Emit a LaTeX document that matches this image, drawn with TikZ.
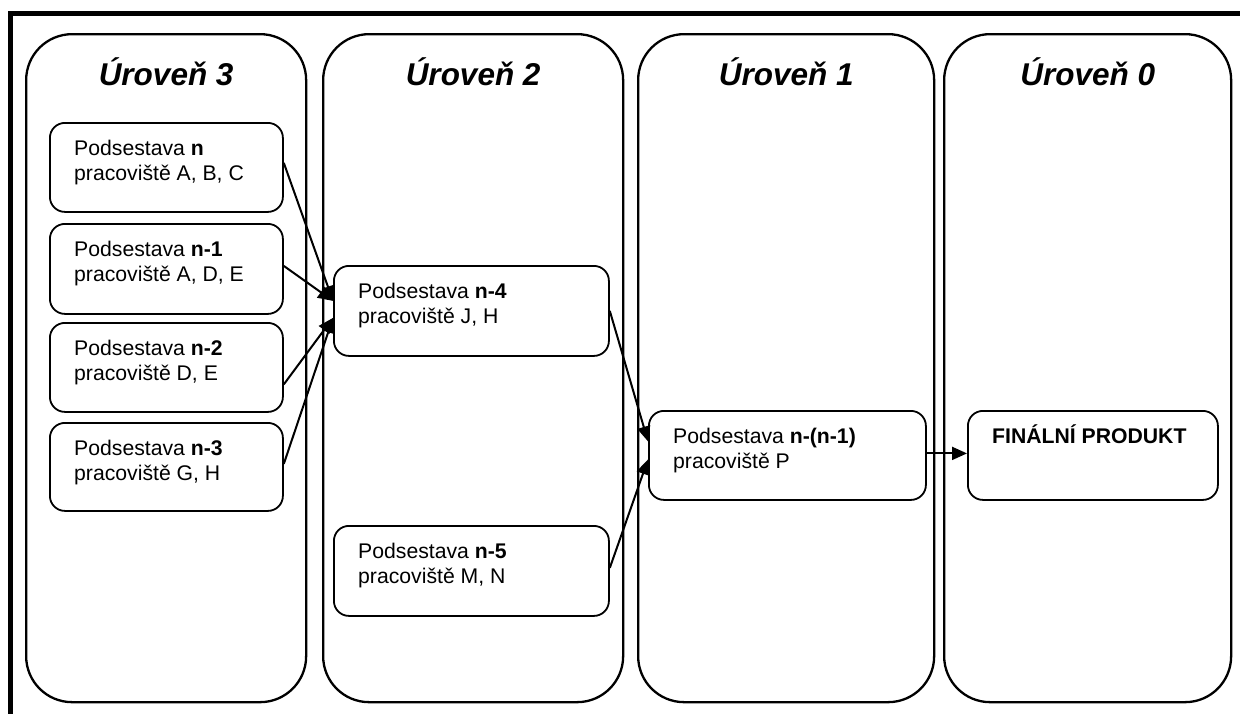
\documentclass[tikz,border=0pt]{standalone}
\usepackage{fontspec}
\setmainfont{Liberation Sans}
\usetikzlibrary{arrows.meta}
\begin{document}
\begin{tikzpicture}[x=1pt,y=-1pt,
  level/.style={draw, line width=2.3pt, rounded corners=46pt, inner sep=0pt,
    anchor=north west, minimum height=668pt},
  leveltitle/.style={anchor=base, inner sep=0pt,
    font=\fontsize{31.5}{37}\selectfont\bfseries\itshape},
  part/.style={draw, line width=1.8pt, rounded corners=15pt, inner sep=0pt,
    anchor=north west},
  parttext/.style={anchor=north west, inner sep=0pt, align=left,
    font=\fontsize{21.2}{25}\selectfont},
  flow/.style={line width=2pt, -{Triangle[length=15pt,width=13pt]}}]
\useasboundingbox (0,0) rectangle (1240,713);

% outer frame (open on the right and at the bottom)
\draw[line width=5pt] (10,720) -- (10,13.5) -- (1250,13.5);

% level columns
\node[level, minimum width=280pt] (c3) at (25,33) {};
\node[level, minimum width=300pt] (c2) at (322,33) {};
\node[level, minimum width=296pt] (c1) at (637,33) {};
\node[level, minimum width=287pt] (c0) at (943,33) {};
\node[leveltitle] (t3) at ([yshift=-52pt]c3.north) {Úroveň 3};
\node[leveltitle] (t2) at ([yshift=-52pt]c2.north) {Úroveň 2};
\node[leveltitle] (t1) at ([yshift=-52pt]c1.north) {Úroveň 1};
\node[leveltitle] (t0) at ([yshift=-52pt]c0.north) {Úroveň 0};

% sub-assemblies
\node[part, minimum width=233pt, minimum height=89pt] (n)  at (49,122) {};
\node[part, minimum width=233pt, minimum height=90pt] (n1) at (49,223) {};
\node[part, minimum width=233pt, minimum height=89pt] (n2) at (49,322) {};
\node[part, minimum width=233pt, minimum height=88pt] (n3) at (49,422) {};
\node[part, minimum width=275pt, minimum height=90pt] (n4) at (333,265) {};
\node[part, minimum width=275pt, minimum height=90pt] (n5) at (333,525) {};
\node[part, minimum width=277pt, minimum height=89pt] (np) at (648,410) {};
\node[part, minimum width=250pt, minimum height=89pt] (fin) at (967,410) {};

\node[parttext] (nt)  at ([xshift=25pt,yshift=-13pt]n.north west)
  {\rule{0pt}{20pt}Podsestava \textbf{n}\\pracoviště A, B, C};
\node[parttext] (n1t) at ([xshift=25pt,yshift=-13pt]n1.north west)
  {\rule{0pt}{20pt}Podsestava \textbf{n-1}\\pracoviště A, D, E};
\node[parttext] (n2t) at ([xshift=25pt,yshift=-13pt]n2.north west)
  {\rule{0pt}{20pt}Podsestava \textbf{n-2}\\pracoviště D, E};
\node[parttext] (n3t) at ([xshift=25pt,yshift=-13pt]n3.north west)
  {\rule{0pt}{20pt}Podsestava \textbf{n-3}\\pracoviště G, H};
\node[parttext] (n4t) at ([xshift=25pt,yshift=-13pt]n4.north west)
  {\rule{0pt}{20pt}Podsestava \textbf{n-4}\\pracoviště J, H};
\node[parttext] (n5t) at ([xshift=25pt,yshift=-13pt]n5.north west)
  {\rule{0pt}{20pt}Podsestava \textbf{n-5}\\pracoviště M, N};
\node[parttext] (npt) at ([xshift=25pt,yshift=-13pt]np.north west)
  {\rule{0pt}{20pt}Podsestava \textbf{n-(n-1)}\\pracoviště P};
\node[parttext] (fint) at ([xshift=25pt,yshift=-13pt]fin.north west)
  {\rule{0pt}{20pt}\textbf{FINÁLNÍ PRODUKT}};

% material flow
\draw[flow] ([yshift=4.5pt]n.east)   -- ([yshift=10pt]n4.west);
\draw[flow] ([yshift=3pt]n1.east)    -- ([yshift=10pt]n4.west);
\draw[flow] ([yshift=-17pt]n2.east)  -- ([yshift=-7pt]n4.west);
\draw[flow] ([yshift=3pt]n3.east)    -- ([yshift=-7pt]n4.west);
\draw[flow] (n4.east) -- ([yshift=14pt]np.west);
\draw[flow] ([yshift=3pt]n5.east) -- ([yshift=-4pt]np.west);
\draw[flow] ([yshift=2pt]np.east) -- ([yshift=2pt]fin.west);
\end{tikzpicture}
\end{document}
